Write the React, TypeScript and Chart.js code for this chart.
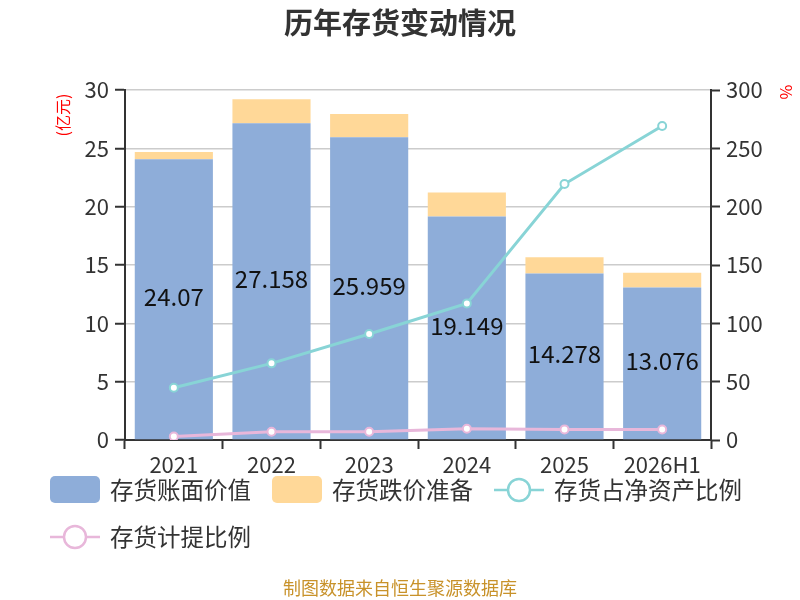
import { useEffect, useRef } from 'react';
import { Chart, registerables } from 'chart.js';

Chart.register(...registerables);

const FONT = '"Noto Sans CJK SC", "Noto Sans", sans-serif';

const years = ['2021', '2022', '2023', '2024', '2025', '2026H1'];
const bookValue = [24.07, 27.158, 25.959, 19.149, 14.278, 13.076];
const impairment = [0.62, 2.04, 1.98, 2.06, 1.38, 1.26];
const netAssetRatio = [44.8, 65.7, 90.9, 117.1, 219.4, 269.1];
const provisionRatio = [2.9, 7.1, 7.1, 9.7, 9.1, 9.0];
const leftTicks = [0, 5, 10, 15, 20, 25, 30];

const BLUE = '#8eadd9';
const ORANGE = '#ffd898';
const CYAN = '#88d4d6';
const PINK = '#e8b7da';

// labels in the middle of the blue bars, plus title, units, legend, source
const decorPlugin = {
  id: 'decor',
  afterDatasetsDraw(chart: any) {
    const ctx = chart.ctx;
    const meta = chart.getDatasetMeta(0);
    ctx.save();
    ctx.font = `24px ${FONT}`;
    ctx.fillStyle = '#111';
    ctx.textAlign = 'center';
    ctx.textBaseline = 'middle';
    meta.data.forEach((bar: any, i: number) => {
      ctx.fillText(String(bookValue[i]), bar.x, (bar.y + bar.base) / 2 - 2);
    });
    ctx.restore();
  },
  afterDraw(chart: any) {
    const ctx = chart.ctx;
    ctx.save();
    // title
    ctx.font = `bold 29px ${FONT}`;
    ctx.fillStyle = '#333';
    ctx.textAlign = 'center';
    ctx.textBaseline = 'middle';
    ctx.fillText('历年存货变动情况', 400, 23);

    // units
    ctx.fillStyle = '#ff0000';
    ctx.font = `16px ${FONT}`;
    ctx.save();
    ctx.translate(63, 115);
    ctx.rotate(-Math.PI / 2);
    ctx.fillText('(亿元)', 0, 0);
    ctx.restore();
    ctx.save();
    ctx.translate(786, 92);
    ctx.rotate(Math.PI / 2);
    ctx.fillText('%', 0, 0);
    ctx.restore();

    // legend
    const items = chart.data.datasets.map((d: any) => ({
      label: d.label,
      type: d.type || 'bar',
      color: d.type === 'line' ? d.borderColor : d.backgroundColor,
    }));
    ctx.font = `23.5px ${FONT}`;
    ctx.textAlign = 'left';
    let x = 50;
    let y = 490;
    items.forEach((it: any) => {
      const tw = ctx.measureText(it.label).width;
      if (x + 60 + tw > 790) {
        x = 50;
        y += 47;
      }
      if (it.type === 'bar') {
        ctx.fillStyle = it.color;
        ctx.beginPath();
        ctx.roundRect(x, y - 14, 50, 27, 5);
        ctx.fill();
      } else {
        ctx.strokeStyle = it.color;
        ctx.lineWidth = 2.5;
        ctx.beginPath();
        ctx.moveTo(x, y);
        ctx.lineTo(x + 50, y);
        ctx.stroke();
        ctx.beginPath();
        ctx.arc(x + 25, y, 11, 0, Math.PI * 2);
        ctx.fillStyle = '#fff';
        ctx.fill();
        ctx.stroke();
      }
      ctx.fillStyle = '#333';
      ctx.fillText(it.label, x + 60, y);
      x += 60 + tw + 21;
    });

    // source
    ctx.font = `18px ${FONT}`;
    ctx.fillStyle = '#c8922a';
    ctx.textAlign = 'center';
    ctx.fillText('制图数据来自恒生聚源数据库', 400, 588);
    ctx.restore();
  },
};

export default function App() {
  const canvasRef = useRef<HTMLCanvasElement>(null);
  const chartRef = useRef<Chart | null>(null);

  useEffect(() => {
    if (!canvasRef.current) return;
    const ctx = canvasRef.current.getContext('2d');
    if (!ctx) return;

    chartRef.current = new Chart(ctx, {
      type: 'bar',
      data: {
        labels: years,
        datasets: [
          {
            label: '存货账面价值',
            data: bookValue,
            backgroundColor: BLUE,
            yAxisID: 'y',
            order: 2,
            stack: 's',
          },
          {
            label: '存货跌价准备',
            data: impairment,
            backgroundColor: ORANGE,
            yAxisID: 'y',
            order: 2,
            stack: 's',
          },
          {
            type: 'line',
            label: '存货占净资产比例',
            data: netAssetRatio,
            borderColor: CYAN,
            backgroundColor: '#fff',
            borderWidth: 3,
            pointRadius: 4,
            pointBorderWidth: 2,
            pointBackgroundColor: '#fff',
            pointBorderColor: CYAN,
            yAxisID: 'y1',
            order: 0,
          },
          {
            type: 'line',
            label: '存货计提比例',
            data: provisionRatio,
            borderColor: PINK,
            backgroundColor: '#fff',
            borderWidth: 3,
            pointRadius: 4,
            pointBorderWidth: 2,
            pointBackgroundColor: '#fff',
            pointBorderColor: PINK,
            yAxisID: 'y1',
            order: 1,
          },
        ] as any,
      },
      options: {
        animation: false,
        responsive: true,
        maintainAspectRatio: false,
        layout: { padding: { top: 90, bottom: 120, left: 0, right: 0 } },
        datasets: { bar: { categoryPercentage: 1, barPercentage: 0.8 } },
        plugins: {
          legend: { display: false },
          title: { display: false },
          tooltip: { enabled: false },
        },
        scales: {
          x: {
            stacked: true,
            grid: {
              display: true,
              drawOnChartArea: false,
              drawTicks: true,
              tickLength: 9,
              color: '#333',
              tickWidth: 2,
            },
            border: { color: '#333', width: 2 },
            ticks: { font: { size: 22, family: FONT }, color: '#333', padding: 2, maxRotation: 0, autoSkip: false },
            afterFit: (s: any) => { s.height = 40; },
          },
          y: {
            stacked: true,
            position: 'left',
            min: 0,
            max: 30,
            afterBuildTicks: (s: any) => { s.ticks = leftTicks.map((v) => ({ value: v })); },
            grid: { color: '#cccccc', lineWidth: 1.5, tickColor: '#333', tickLength: 10, tickWidth: 2 },
            border: { color: '#333', width: 2 },
            ticks: { font: { size: 22, family: FONT }, color: '#333', padding: 6 },
            afterFit: (s: any) => { s.width = 125; },
          },
          y1: {
            position: 'right',
            min: 0,
            max: 300,
            ticks: { stepSize: 50, font: { size: 22, family: FONT }, color: '#333', padding: 6 },
            grid: { drawOnChartArea: false, tickColor: '#333', tickLength: 9, tickWidth: 2 },
            border: { color: '#333', width: 2 },
            afterFit: (s: any) => { s.width = 89; },
          },
        },
      },
      plugins: [decorPlugin],
    });

    return () => {
      chartRef.current?.destroy();
    };
  }, []);

  return (
    <div style={{ position: 'fixed', left: 0, top: 0, width: 800, height: 600, background: '#fff' }}>
      <canvas ref={canvasRef}></canvas>
    </div>
  );
}
